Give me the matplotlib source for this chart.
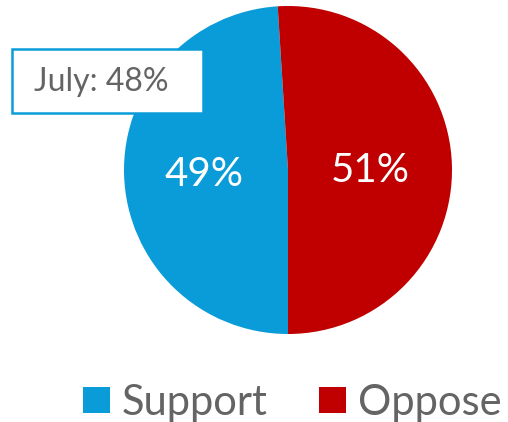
import matplotlib
matplotlib.use("Agg")
import matplotlib.pyplot as plt
from matplotlib.patches import Rectangle

plt.rcParams['font.family'] = ['Lato', 'DejaVu Sans']

# data
labels = ["Support", "Oppose"]
values = [49, 51]
colors = ["#0A9CD8", "#C00000"]
callout = "July: 48%"

W, H = 508, 422
fig = plt.figure(figsize=(W / 100, H / 100), dpi=100)

# pie axes: center (288,170) px, radius 164 px
ax = fig.add_axes([124 / W, 88 / H, 328 / W, 328 / H])
wedges, _ = ax.pie(values, colors=colors, startangle=270, counterclock=False,
                   radius=1, wedgeprops=dict(linewidth=0))
ax.set_xlim(-1, 1)
ax.set_ylim(-1, 1)
ax.set_aspect("equal")
ax.axis("off")

# slice labels
ax.text(-0.51, -0.03, f"{values[0]}%", color="white", fontsize=29,
        ha="center", va="center")
ax.text(0.50, 0.0, f"{values[1]}%", color="white", fontsize=29,
        ha="center", va="center")

# callout box
fig.patches.append(Rectangle((12 / W, 1 - 113 / H), 191 / W, 64 / H,
                             transform=fig.transFigure, facecolor="white",
                             edgecolor=colors[0], linewidth=1.8, zorder=5))
fig.text(101 / W, 1 - 82 / H, callout, color="#646464", fontsize=23,
         ha="center", va="center", zorder=6)

# legend, placed by hand so spacing matches
legend_x = [83, 319]
for x0, lab, col in zip(legend_x, labels, colors):
    fig.patches.append(Rectangle((x0 / W, 1 - 413 / H), 27 / W, 26 / H,
                                 transform=fig.transFigure, facecolor=col,
                                 edgecolor="none"))
    fig.text((x0 + 39) / W, 1 - 400 / H, lab, color="#646464", fontsize=30,
             ha="left", va="center_baseline")

fig.savefig("out.png", dpi=100)
